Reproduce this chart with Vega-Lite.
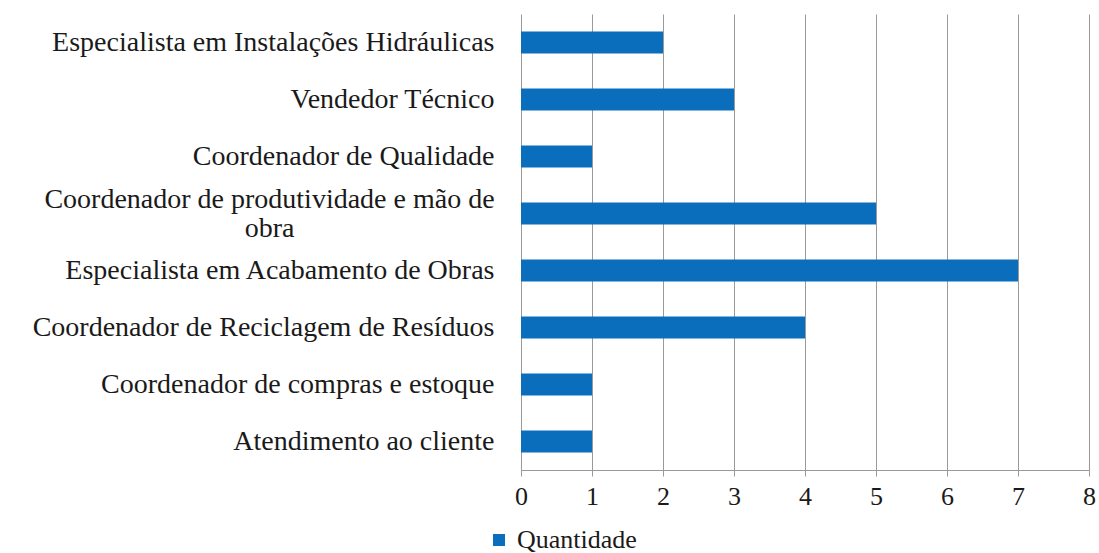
{
  "$schema": "https://vega.github.io/schema/vega-lite/v6.json",
  "autosize": {"type": "none"},
  "padding": {"left": 521, "top": 14, "right": 10, "bottom": 83},
  "width": 568,
  "height": 456,
  "background": "white",
  "config": {
    "view": {"stroke": null},
    "font": "Liberation Serif, Times New Roman, serif",
    "axis": {"labelFont": "Liberation Serif, Times New Roman, serif"},
    "legend": {"labelFont": "Liberation Serif, Times New Roman, serif"}
  },
  "data": {
    "values": [
      {"cargo": "Especialista em Instalações Hidráulicas", "quantidade": 2, "serie": "Quantidade"},
      {"cargo": "Vendedor Técnico", "quantidade": 3, "serie": "Quantidade"},
      {"cargo": "Coordenador de Qualidade", "quantidade": 1, "serie": "Quantidade"},
      {"cargo": "Coordenador de produtividade e mão de obra", "quantidade": 5, "serie": "Quantidade"},
      {"cargo": "Especialista em Acabamento de Obras", "quantidade": 7, "serie": "Quantidade"},
      {"cargo": "Coordenador de Reciclagem de Resíduos", "quantidade": 4, "serie": "Quantidade"},
      {"cargo": "Coordenador de compras e estoque", "quantidade": 1, "serie": "Quantidade"},
      {"cargo": "Atendimento ao cliente", "quantidade": 1, "serie": "Quantidade"}
    ]
  },
  "mark": {"type": "bar"},
  "encoding": {
    "y": {
      "field": "cargo",
      "type": "nominal",
      "sort": null,
      "scale": {"paddingInner": 0.61, "paddingOuter": 0.305},
      "axis": {
        "title": null,
        "ticks": false,
        "tickSize": 0,
        "domain": false,
        "grid": false,
        "labelFontSize": 28,
        "labelColor": "#1a1a1a",
        "labelLimit": 600,
        "labelLineHeight": 29,
        "labelAlign": {"condition": {"test": "datum.value == 'Coordenador de produtividade e mão de obra'", "value": "center"}, "value": "right"},
        "labelPadding": {"condition": {"test": "datum.value == 'Coordenador de produtividade e mão de obra'", "value": 252}, "value": 27},
        "labelOffset": {"condition": {"test": "datum.value == 'Coordenador de produtividade e mão de obra'", "value": -14}, "value": 0},
        "labelExpr": "datum.label == 'Coordenador de produtividade e mão de obra' ? ['Coordenador de produtividade e mão de', 'obra'] : datum.label"
      }
    },
    "x": {
      "field": "quantidade",
      "type": "quantitative",
      "scale": {"domain": [0, 8], "nice": false},
      "axis": {
        "title": null,
        "values": [0, 1, 2, 3, 4, 5, 6, 7, 8],
        "grid": true,
        "gridColor": "#9a9a9a",
        "gridOpacity": 1,
        "gridWidth": 1,
        "domainColor": "#9a9a9a",
        "domainWidth": 1,
        "tickColor": "#9a9a9a",
        "tickSize": 6,
        "labelFontSize": 26,
        "labelColor": "#1a1a1a",
        "labelPadding": 7,
        "labelFlush": false
      }
    },
    "color": {
      "field": "serie",
      "type": "nominal",
      "scale": {"range": ["#0a6ebd"]},
      "legend": {
        "title": null,
        "orient": "none",
        "legendX": -35,
        "legendY": 513,
        "symbolType": "square",
        "symbolSize": 144,
        "symbolStrokeWidth": 0,
        "symbolOpacity": 1,
        "labelFontSize": 26,
        "labelColor": "#1a1a1a",
        "labelOffset": 5
      }
    }
  }
}
